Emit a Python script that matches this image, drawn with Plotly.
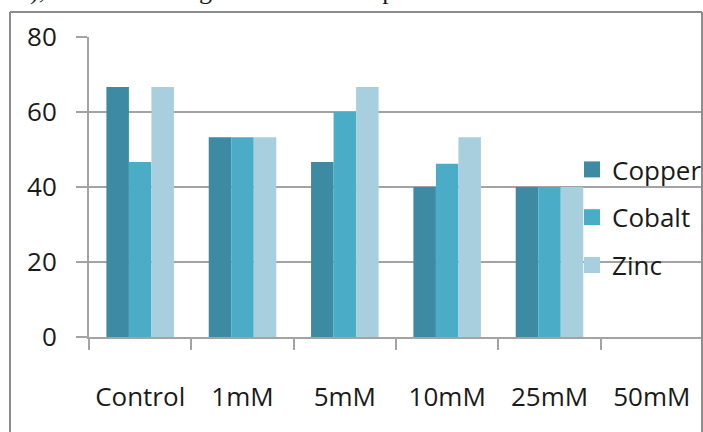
import plotly.graph_objects as go

categories = ["Control", "1mM", "5mM", "10mM", "25mM", "50mM"]
copper = [66.7, 53.3, 46.7, 40.0, 40.0, 0]
cobalt = [46.7, 53.3, 60.0, 46.2, 40.0, 0]
zinc = [66.7, 53.3, 66.7, 53.3, 40.0, 0]
series_names = ["Copper", "Cobalt", "Zinc"]
colors = ["#3c8ba2", "#4aacc6", "#a8cfde"]
y_ticks = [0, 20, 40, 60, 80]

W, H = 703, 432
L, R, T, B = 89, 0, 37, 95

fig = go.Figure()
for name, vals, col in zip(series_names, [copper, cobalt, zinc], colors):
    fig.add_trace(go.Bar(x=categories, y=vals, name=name, marker_color=col,
                         marker_line_width=0, showlegend=False))
for i, (name, col) in enumerate(zip(series_names, colors)):
    fig.add_trace(go.Scatter(x=[None], y=[None], mode="markers", name=name,
                             legendgroup=f"g{i}",
                             marker=dict(symbol="square", size=20, color=col, line_width=0)))

gray = "#a3a3a3"
font = dict(family="Open Sans", size=26, color="#1a1a1a")

def px_x(px):
    return (px - L) / (W - L - R)

def px_y(py):
    return (H - B - py) / (H - T - B)

fig.update_layout(
    width=W, height=H,
    margin=dict(l=L, r=R, t=T, b=B, pad=0, autoexpand=False),
    paper_bgcolor="white", plot_bgcolor="white",
    barmode="group", bargap=0.34, bargroupgap=0,
    font=font,
    showlegend=True,
    legend=dict(x=px_x(572), y=px_y(146), xanchor="left", yanchor="top",
                bgcolor="rgba(0,0,0,0)", borderwidth=0,
                font=dict(family="Open Sans", size=26, color="#1a1a1a"),
                tracegroupgap=11),
    xaxis=dict(type="category", showgrid=False, showline=True, linecolor=gray, linewidth=2,
               ticks="outside", tickson="boundaries", ticklen=11, tickcolor=gray, tickwidth=2,
               ticklabelstandoff=36, tickfont=font, zeroline=False, automargin=False),
    yaxis=dict(range=[0, 80], tickvals=y_ticks, showgrid=True, gridcolor=gray, gridwidth=2,
               showline=True, linecolor=gray, linewidth=2, zeroline=False,
               ticks="outside", ticklen=11, tickcolor=gray, tickwidth=2,
               ticklabelstandoff=14, tickfont=font, automargin=False),
    shapes=[
        dict(type="line", xref="paper", yref="paper", x0=px_x(10), x1=px_x(10),
             y0=px_y(12), y1=px_y(440), line=dict(color="#8c8c8c", width=2)),
        dict(type="line", xref="paper", yref="paper", x0=px_x(10), x1=px_x(702),
             y0=px_y(12), y1=px_y(12), line=dict(color="#8c8c8c", width=2)),
        dict(type="line", xref="paper", yref="paper", x0=px_x(702), x1=px_x(702),
             y0=px_y(12), y1=px_y(440), line=dict(color="#8c8c8c", width=2)),
    ],
    annotations=[
        dict(text="), decreased the germination of capsicum seeds.", xref="paper", yref="paper",
             x=px_x(28), y=px_y(7), xanchor="left", yanchor="bottom", showarrow=False,
             font=dict(family="Liberation Serif", size=26, color="#1a1a1a")),
    ],
)

fig.write_html("out.html", config={"displayModeBar": False},
               post_script="document.body.style.margin='0';document.body.style.overflow='hidden';")
